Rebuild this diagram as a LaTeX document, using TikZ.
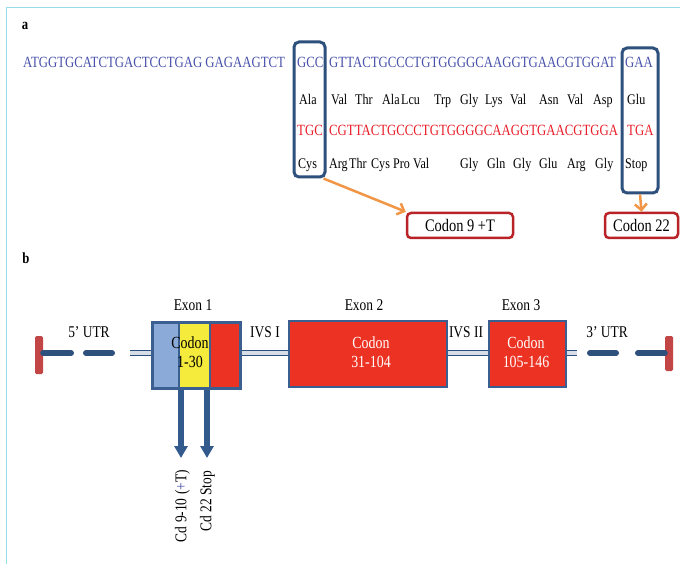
\documentclass[tikz,border=0pt]{standalone}
\usepackage{fontspec}
\setmainfont[FakeStretch=0.82]{Liberation Serif}
\usetikzlibrary{arrows.meta,calc}
\definecolor{seqblue}{RGB}{72,82,170}
\definecolor{seqred}{RGB}{232,30,40}
\definecolor{boxblue}{RGB}{45,80,125}
\definecolor{arrorange}{RGB}{240,150,70}
\definecolor{codred}{RGB}{185,35,40}
\definecolor{framecyan}{RGB}{150,220,235}
\definecolor{exred}{RGB}{236,50,35}
\definecolor{exblue}{RGB}{140,170,215}
\definecolor{exyellow}{RGB}{245,235,60}
\definecolor{exborder}{RGB}{60,95,145}
\definecolor{capred}{RGB}{195,70,70}
\definecolor{pipein}{RGB}{215,222,232}
\definecolor{darrow}{RGB}{50,90,140}
\begin{document}
\begin{tikzpicture}[x=1pt,y=-1pt,
  seq/.style={inner sep=0, anchor=base west, font=\fontsize{15.6}{17}\selectfont},
  aa/.style={inner sep=0, anchor=base west, font=\fontsize{14.7}{17}\selectfont},
  codbox/.style={draw=boxblue, line width=3pt, rounded corners=5pt, inner sep=0},
  mutbox/.style={draw=codred, line width=2.5pt, rounded corners=4pt, inner sep=0, minimum height=25pt, font=\fontsize{17.6}{19}\selectfont},
  orarrow/.style={draw=arrorange, line width=2.5pt, -{Straight Barb[length=6pt,width=12pt]}},
  lbl/.style={inner sep=0, font=\fontsize{16.4}{18}\selectfont},
  utr/.style={draw=boxblue, line width=6pt, line cap=round},
  pipe/.style={draw=boxblue, line width=1.2pt, double=pipein, double distance=3.5pt},
  exfill/.style={draw=exborder, line width=1.5pt, inner sep=0, minimum height=66pt, anchor=north west},
  exbox/.style={draw=exborder, line width=2.5pt, fill=exred, inner sep=0, minimum height=66pt},
  cod/.style={inner sep=0, align=center, font=\fontsize{17}{19}\selectfont},
  downarrow/.style={draw=darrow, line width=5.5pt, -{Triangle[width=13pt,length=12pt]}},
  vlab/.style={inner sep=0, rotate=90, anchor=east, font=\fontsize{16.4}{18}\selectfont},
  panel/.style={inner sep=0, font=\fontsize{15.5}{17}\selectfont\bfseries}
]
\useasboundingbox (0,0) rectangle (680,564);
\draw[framecyan, line width=1pt] (680,8) -- (6,8) -- (6,564);

% ---------- panel a ----------
\node[panel] (pa) at (25,26) {a};

\node[seq, text=seqblue] (s1) at (23,67.5) {ATGGTGCATCTGACTCCTGAG GAGAAGTCT};
\node[seq, text=seqblue] (s1b) at (297,67.5) {GCC};
\node[seq, text=seqblue] (s1c) at (329,67.5) {GTTACTGCCCTGTGGGGCAAGGTGAACGTGGAT};
\node[seq, text=seqblue] (s1d) at (625,67.5) {GAA};

\node[aa] (r2a) at (299,104.5) {Ala};
\node[aa] (r2b) at (331,104.5) {Val};
\node[aa] (r2c) at (355,104.5) {Thr};
\node[aa] (r2d) at (382,104.5) {Ala};
\node[aa] (r2e) at (401,104.5) {Lcu};
\node[aa] (r2f) at (434,104.5) {Trp};
\node[aa] (r2g) at (460,104.5) {Gly};
\node[aa] (r2h) at (485,104.5) {Lys};
\node[aa] (r2i) at (510,104.5) {Val};
\node[aa] (r2j) at (539,104.5) {Asn};
\node[aa] (r2k) at (567,104.5) {Val};
\node[aa] (r2l) at (593,104.5) {Asp};
\node[aa] (r2m) at (627,104.5) {Glu};

\node[seq, text=seqred] (s3a) at (297,135.5) {TGC};
\node[seq, text=seqred] (s3b) at (329,135.5) {CGTTACTGCCCTGTGGGGCAAGGTGAACGTGGA};
\node[seq, text=seqred] (s3c) at (627,135.5) {TGA};

\node[aa] (r4a) at (298,168.5) {Cys};
\node[aa] (r4b) at (329,168.5) {Arg};
\node[aa] (r4c) at (349,168.5) {Thr};
\node[aa] (r4d) at (371,168.5) {Cys};
\node[aa] (r4e) at (393,168.5) {Pro};
\node[aa] (r4f) at (413,168.5) {Val};
\node[aa] (r4g) at (460,168.5) {Gly};
\node[aa] (r4h) at (487,168.5) {Gln};
\node[aa] (r4i) at (513,168.5) {Gly};
\node[aa] (r4j) at (539,168.5) {Glu};
\node[aa] (r4k) at (567,168.5) {Arg};
\node[aa] (r4l) at (595,168.5) {Gly};
\node[aa] (r4m) at (625,168.5) {Stop};

\node[codbox, minimum width=31pt, minimum height=135pt] (gccbox) at (309.5,109.5) {};
\node[codbox, minimum width=36pt, minimum height=145pt] (gaabox) at (640,120.5) {};

\node[mutbox, minimum width=106pt] (c9) at (460,225.5) {Codon 9 +T};
\node[mutbox, minimum width=73pt] (c22) at (641.5,225.5) {Codon 22};

\draw[orarrow] ($(gccbox.south east)+(-3,0)$) -- (c9.north west);
\draw[orarrow] (gaabox.south) -- (c22.north);

% ---------- panel b ----------
\node[panel] (pb) at (26,258) {b};

\node[fill=capred, rounded corners=1.5pt, minimum width=8pt, minimum height=38pt, inner sep=0] (capL) at (39,355) {};
\node[fill=capred, rounded corners=1.5pt, minimum width=8pt, minimum height=35pt, inner sep=0] (capR) at (669,353.5) {};

% exon 1
\node[exfill, fill=exblue, minimum width=27pt] (e1a) at (151,321) {};
\node[exfill, fill=exyellow, minimum width=31pt] (e1b) at (178,321) {};
\node[exfill, fill=exred, minimum width=30pt] (e1c) at (209,321) {};
\node[draw=exborder, line width=2.5pt, inner sep=0, minimum width=88pt, minimum height=66pt, anchor=north west] (ex1) at (151,321) {};
\node[exbox, minimum width=158pt] (ex2) at (368,354) {};
\node[exbox, minimum width=77pt] (ex3) at (527.5,354) {};

\node[cod] (t1) at (190,352.5) {Codon\\1-30};
\node[cod, text=white] (t2) at (371,352.5) {Codon\\31-104};
\node[cod, text=white] (t3) at (526,352.5) {Codon\\105-146};

\node[lbl] (lx1) at (193,305) {Exon 1};
\node[lbl] (lx2) at (364,305) {Exon 2};
\node[lbl] (lx3) at (521,305) {Exon 3};
\node[lbl] (l5) at (89,332) {5' UTR};
\node[lbl] (li1) at (265,332) {IVS I};
\node[lbl] (li2) at (466,332) {IVS II};
\node[lbl] (l3) at (607,332) {3' UTR};

% UTR lines
\coordinate (u1) at (71,353);
\coordinate (u2a) at (86,353);
\coordinate (u2b) at (112,353);
\coordinate (p1) at (130,353);
\coordinate (p2) at (577,353);
\coordinate (u3a) at (590,353);
\coordinate (u3b) at (616,353);
\coordinate (u4) at (638,353);
\draw[utr] (capL.east |- u1) -- (u1);
\draw[utr] (u2a) -- (u2b);
\draw[utr] (u4) -- (capR.west |- u4);
\draw[utr] (u3a) -- (u3b);
\draw[pipe] (p1) -- (p1 -| ex1.west);
\draw[pipe] (ex1.east |- p1) -- (ex2.west |- p1);
\draw[pipe] (ex2.east |- p1) -- (ex3.west |- p1);
\draw[pipe] (ex3.east |- p2) -- (p2);

% mutation arrows
\coordinate (d1) at (181,458);
\coordinate (d2) at (207,458);
\draw[downarrow] (ex1.south -| d1) -- (d1);
\draw[downarrow] (ex1.south -| d2) -- (d2);
\node[vlab] (v1) at (182.5,470) {Cd 9-10 (\textcolor{seqblue}{+}T)};
\node[vlab] (v2) at (207.5,471) {Cd 22 Stop};
\end{tikzpicture}
\end{document}
